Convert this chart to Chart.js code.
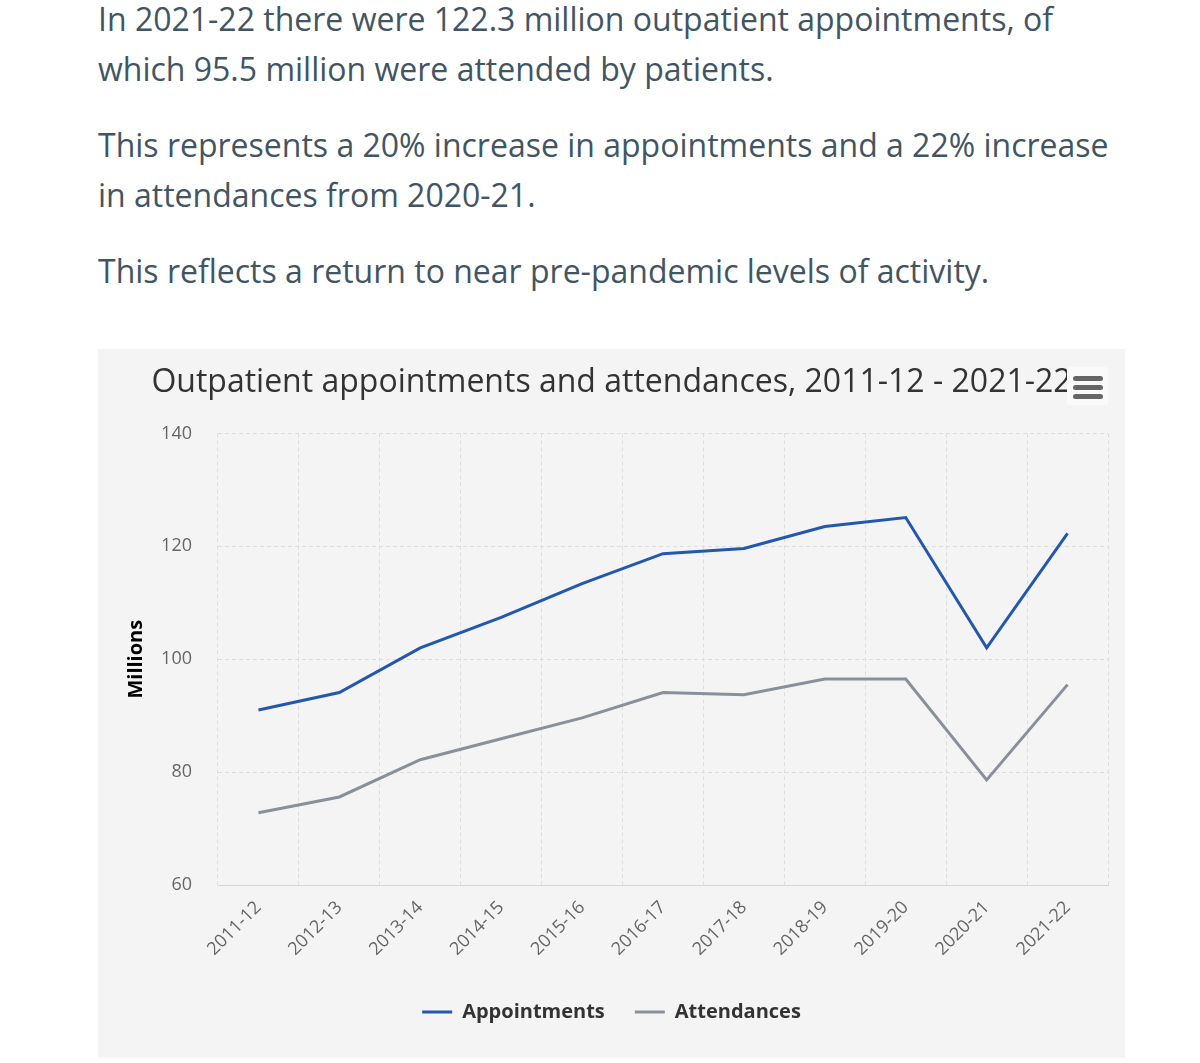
<!DOCTYPE html>
<html>
<head>
<meta charset="utf-8">
<script src="https://cdn.jsdelivr.net/npm/chart.js@4"></script>
<style>
  body { margin: 0; background: #fff; width: 1200px; height: 1063px; overflow: hidden; position: relative; font-family: "Open Sans", sans-serif; }
  .intro { position: absolute; left: 98px; top: -6px; color: #425563; font-size: 32px; line-height: 50px; }
  .intro p { margin: 0 0 26px 0; white-space: nowrap; }
  .panel { position: absolute; left: 98px; top: 349px; width: 1027px; height: 709px; background: #f4f4f4; }
  .menu { position: absolute; left: 1067px; top: 367px; width: 41px; height: 38px; background: #fafafa; border-radius: 3px; }
  .menu span { position: absolute; left: 6px; width: 30px; height: 5px; border-radius: 3px; background: #666; }
</style>
</head>
<body>
<div class="intro">
  <p>In 2021-22 there were 122.3 million outpatient appointments, of<br>which 95.5 million were attended by patients.</p>
  <p>This represents a 20% increase in appointments and a 22% increase<br>in attendances from 2020-21.</p>
  <p>This reflects a return to near pre-pandemic levels of activity.</p>
</div>
<div class="panel"><canvas id="lineChart"></canvas></div>
<div class="menu"><span style="top:9px"></span><span style="top:18px"></span><span style="top:27px"></span></div>
<script>
var years = ["2011-12", "2012-13", "2013-14", "2014-15", "2015-16", "2016-17", "2017-18", "2018-19", "2019-20", "2020-21", "2021-22"];
var appointments = [91.0, 94.1, 102.0, 107.4, 113.4, 118.7, 119.6, 123.5, 125.1, 102.0, 122.3];
var attendances = [72.8, 75.6, 82.2, 85.9, 89.6, 94.1, 93.7, 96.5, 96.5, 78.6, 95.5];
var yTicks = [60, 80, 100, 120, 140];

var colors = {
  blue: '#2358ad',
  grey: '#8a9099'
};

var ctx = document.getElementById("lineChart").getContext("2d");
var myChart = new Chart(ctx, {
  type: 'line',
  data: {
    labels: years,
    datasets: [{
      label: 'Appointments',
      data: appointments,
      borderColor: colors.blue,
      backgroundColor: colors.blue,
      borderWidth: 3,
      pointRadius: 0,
      tension: 0
    }, {
      label: 'Attendances',
      data: attendances,
      borderColor: colors.grey,
      backgroundColor: colors.grey,
      borderWidth: 3,
      pointRadius: 0,
      tension: 0
    }]
  },
  options: {
    responsive: true,
    maintainAspectRatio: false,
    animation: false,
    layout: { padding: { left: 0, right: 0, top: 0, bottom: 26 } },
    plugins: {
      title: {
        display: true,
        text: 'Outpatient appointments and attendances, 2011-12 - 2021-22',
        color: '#333',
        font: { family: 'Open Sans', size: 32, weight: 'normal' },
        padding: { top: 15, bottom: 31 }
      },
      legend: {
        position: 'bottom',
        labels: {
          usePointStyle: true,
          pointStyle: 'line',
          pointStyleWidth: 30,
          color: '#333',
          font: { family: 'Open Sans', size: 20, weight: 'bold' },
          padding: 30
        }
      },
      tooltip: { enabled: false }
    },
    scales: {
      x: {
        offset: true,
        grid: { offset: true, color: '#dedede', drawTicks: false },
        border: { display: true, color: '#ccd6eb', width: 1, dash: [4, 3] },
        ticks: {
          color: '#666',
          font: { family: 'Open Sans', size: 18 },
          minRotation: 45,
          maxRotation: 45,
          padding: 12
        },
        afterFit: function (scale) {
          scale.height = 87;
          scale.paddingRight = 17;
        }
      },
      y: {
        min: 60,
        max: 140,
        afterBuildTicks: function (scale) {
          scale.ticks = yTicks.map(function (v) { return { value: v }; });
        },
        grid: {
          drawTicks: false,
          color: function (c) { return c.tick && c.tick.value === 60 ? 'rgba(0,0,0,0)' : '#dedede'; }
        },
        border: { display: false, dash: [4, 3] },
        ticks: {
          color: '#666',
          font: { family: 'Open Sans', size: 18 },
          padding: 26
        },
        title: {
          display: true,
          text: 'Millions',
          color: '#000',
          font: { family: 'Open Sans', size: 20, weight: 'bold' },
          padding: { top: 26, bottom: 0 }
        },
        afterFit: function (scale) { scale.width = 120; }
      }
    }
  }
});
</script>
</body>
</html>
